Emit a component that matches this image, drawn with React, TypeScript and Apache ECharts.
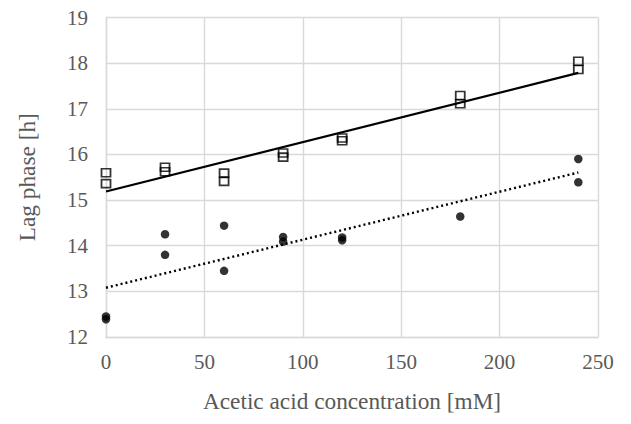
import React, { useEffect, useRef } from "react";
import * as echarts from "echarts";

const concSquares: number[] = [0, 0, 30, 30, 60, 60, 90, 90, 120, 120, 180, 180, 240, 240];
const lagSquares: number[] = [15.6, 15.36, 15.72, 15.62, 15.59, 15.41, 16.03, 15.94, 16.36, 16.3, 17.29, 17.11, 18.04, 17.86];

const concCircles: number[] = [0, 0, 30, 30, 60, 60, 90, 90, 120, 120, 180, 240, 240];
const lagCircles: number[] = [12.45, 12.39, 14.25, 13.8, 14.44, 13.45, 14.19, 14.09, 14.18, 14.12, 14.64, 15.9, 15.39];

const xTicks = [0, 50, 100, 150, 200, 250];
const yTicks = [12, 13, 14, 15, 16, 17, 18, 19];

function fit(xs: number[], ys: number[]) {
  const n = xs.length;
  const mx = xs.reduce((a, b) => a + b, 0) / n;
  const my = ys.reduce((a, b) => a + b, 0) / n;
  let sxy = 0, sxx = 0;
  for (let i = 0; i < n; i++) {
    sxy += (xs[i] - mx) * (ys[i] - my);
    sxx += (xs[i] - mx) * (xs[i] - mx);
  }
  const b = sxy / sxx;
  const a = my - b * mx;
  const x0 = Math.min(...xs), x1 = Math.max(...xs);
  return [[x0, a + b * x0], [x1, a + b * x1]];
}

const FONT = "'Liberation Serif', 'Times New Roman', serif";
const TEXT = "#595959";
const GRID = "#d9d9d9";

export default function App() {
  const ref = useRef<HTMLDivElement>(null);
  useEffect(() => {
    if (!ref.current) return;
    const chart = echarts.init(ref.current, undefined, { renderer: "svg" });
    chart.setOption({
      animation: false,
      backgroundColor: "#ffffff",
      grid: { left: 106, right: 33, top: 17.5, bottom: 87, containLabel: false },
      xAxis: {
        type: "value",
        min: xTicks[0],
        max: xTicks[xTicks.length - 1],
        interval: 50,
        name: "Acetic acid concentration [mM]",
        nameLocation: "middle",
        nameGap: 52,
        nameTextStyle: { fontFamily: FONT, fontSize: 23.3, color: TEXT },
        axisLine: { show: true, lineStyle: { color: GRID, width: 1.4 } },
        axisTick: { show: false },
        axisLabel: { fontFamily: FONT, fontSize: 21, color: TEXT, margin: 14 },
        splitLine: { show: true, lineStyle: { color: GRID, width: 1.4 } },
      },
      yAxis: {
        type: "value",
        min: yTicks[0],
        max: yTicks[yTicks.length - 1],
        interval: 1,
        name: "Lag phase [h]",
        nameLocation: "middle",
        nameGap: 68,
        nameTextStyle: { fontFamily: FONT, fontSize: 23.3, color: TEXT },
        axisLine: { show: true, lineStyle: { color: GRID, width: 1.4 } },
        axisTick: { show: false },
        axisLabel: { fontFamily: FONT, fontSize: 21, color: TEXT, margin: 18 },
        splitLine: { show: true, lineStyle: { color: GRID, width: 1.4 } },
      },
      series: [
        {
          type: "line",
          data: fit(concSquares, lagSquares),
          showSymbol: false,
          symbol: "none",
          lineStyle: { color: "#000", width: 2.2 },
          z: 3,
        },
        {
          type: "line",
          data: fit(concCircles, lagCircles),
          showSymbol: false,
          symbol: "none",
          lineStyle: { color: "#000", width: 2.4, type: [2, 3] },
          z: 3,
        },
        {
          type: "scatter",
          data: concSquares.map((x, i) => [x, lagSquares[i]]),
          symbol: "rect",
          symbolSize: [9, 8],
          itemStyle: { color: "rgba(255,255,255,0)", borderColor: "#000", borderWidth: 1.7 },
          z: 4,
        },
        {
          type: "scatter",
          data: concCircles.map((x, i) => [x, lagCircles[i]]),
          symbol: "circle",
          symbolSize: 8.5,
          itemStyle: { color: "#000" },
          z: 4,
        },
      ],
    });
    return () => chart.dispose();
  }, []);
  return <div ref={ref} style={{ width: 631, height: 424, position: "absolute", left: 0, top: 0 }} />;
}
